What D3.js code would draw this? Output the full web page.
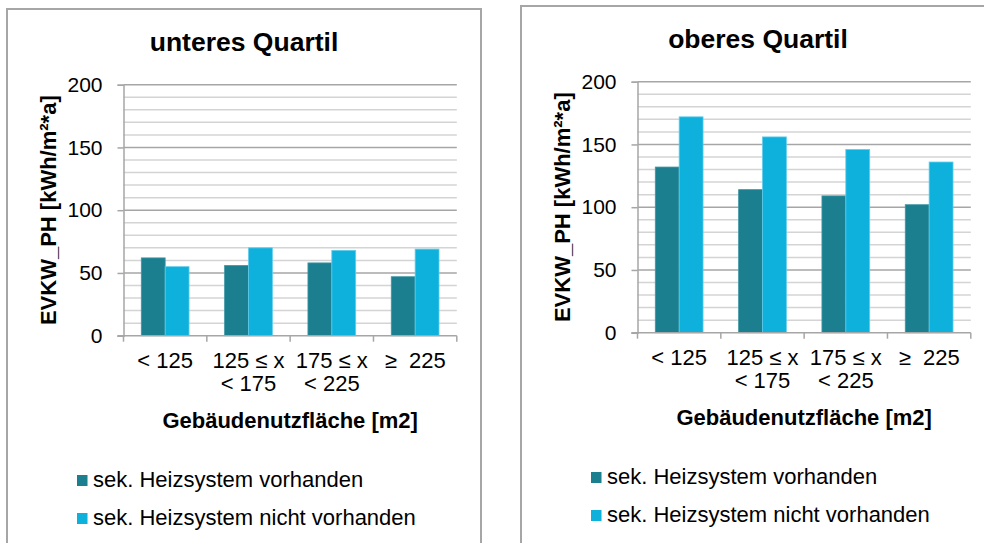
<!DOCTYPE html>
<html>
<head>
<meta charset="utf-8">
<script src="https://cdn.jsdelivr.net/npm/d3@7"></script>
<style>
  body { margin: 0; background: #fff; }
  text { font-family: "Liberation Sans", Arial, sans-serif; fill: #000; }
</style>
</head>
<body>
<div id="chart"></div>
<script>
// categories (x-axis), each label split into its lines
var categories = [["< 125"], ["125 ≤ x", "< 175"], ["175 ≤ x", "< 225"], ["≥  225"]];
var seriesNames = ["sek. Heizsystem vorhanden", "sek. Heizsystem nicht vorhanden"];
var seriesColors = ["#1b7f8f", "#0eb0dc"];
var seriesEdge = ["#3f98a6", "#62cdeb"];

// unteres Quartil
var unten_vorhanden = [62, 56, 58, 47];
var unten_nicht = [55, 70, 68, 69];
// oberes Quartil
var oben_vorhanden = [132, 114, 109, 102];
var oben_nicht = [172, 156, 146, 136];

var yTicks = [0, 50, 100, 150, 200];
var yLabel = "EVKW_PH [kWh/m²*a]";
var xLabel = "Gebäudenutzfläche [m2]";

var svg = d3.select("#chart").append("svg")
  .attr("width", 984)
  .attr("height", 543);

function drawPanel(dx, dy, title, vals1, vals2) {
  var g = svg.append("g").attr("transform", "translate(" + dx + "," + dy + ")");

  // frame around the chart (runs off the bottom of the picture)
  g.append("rect")
    .attr("x", 7).attr("y", 9)
    .attr("width", 474).attr("height", 600)
    .attr("fill", "none")
    .attr("stroke", "#a6a6a6")
    .attr("stroke-width", 2);

  var plot = {left: 123.5, right: 456.8, top: 84.7, bottom: 335.7};

  var y = d3.scaleLinear().domain([0, 200]).range([plot.bottom, plot.top]);
  var x = d3.scaleBand()
    .domain(d3.range(categories.length))
    .range([plot.left, plot.right])
    .paddingInner(0.427)
    .paddingOuter(0.2135);
  var xs = d3.scaleBand().domain([0, 1]).range([0, x.bandwidth()]);

  // minor gridlines every 10
  g.selectAll(".minor")
    .data(y.ticks(20).filter(function(d) { return d % 50 != 0; }))
    .enter().append("line")
    .attr("x1", plot.left).attr("x2", plot.right)
    .attr("y1", function(d) { return y(d); })
    .attr("y2", function(d) { return y(d); })
    .attr("stroke", "#d4d4d4")
    .attr("stroke-width", 1.5);

  // major gridlines
  g.selectAll(".major")
    .data(yTicks.filter(function(d) { return d > 0; }))
    .enter().append("line")
    .attr("x1", plot.left).attr("x2", plot.right)
    .attr("y1", function(d) { return y(d); })
    .attr("y2", function(d) { return y(d); })
    .attr("stroke", "#a6a6a6")
    .attr("stroke-width", 1.5);

  // bars
  var data = [];
  categories.forEach(function(c, i) {
    data.push({cat: i, s: 0, v: vals1[i]});
    data.push({cat: i, s: 1, v: vals2[i]});
  });
  g.selectAll(".bar")
    .data(data)
    .enter().append("rect")
    .attr("x", function(d) { return x(d.cat) + xs(d.s); })
    .attr("y", function(d) { return y(d.v); })
    .attr("width", xs.bandwidth())
    .attr("height", function(d) { return y(0) - y(d.v); })
    .attr("fill", function(d) { return seriesColors[d.s]; })
    .attr("stroke", function(d) { return seriesEdge[d.s]; })
    .attr("stroke-width", 0.8);

  // y axis
  var yAxis = g.append("g")
    .attr("transform", "translate(" + plot.left + ",0)")
    .call(d3.axisLeft(y).tickValues(yTicks).tickSize(6).tickPadding(15));
  yAxis.select(".domain").attr("stroke", "#a6a6a6").attr("stroke-width", 1.5);
  yAxis.selectAll(".tick line").attr("stroke", "#a6a6a6").attr("stroke-width", 1.5);
  yAxis.selectAll(".tick text")
    .attr("font-size", "21px")
    .attr("fill", "#000")
    .style("font-family", "'Liberation Sans', Arial, sans-serif");

  // x axis line with ticks at category borders
  var boundaries = d3.range(categories.length + 1).map(function(i) {
    return plot.left + i * x.step();
  });
  g.append("line")
    .attr("x1", plot.left - 6).attr("x2", plot.right)
    .attr("y1", plot.bottom).attr("y2", plot.bottom)
    .attr("stroke", "#a6a6a6").attr("stroke-width", 1.5);
  g.selectAll(".xtick")
    .data(boundaries)
    .enter().append("line")
    .attr("x1", function(d) { return d; })
    .attr("x2", function(d) { return d; })
    .attr("y1", plot.bottom).attr("y2", plot.bottom + 6)
    .attr("stroke", "#a6a6a6").attr("stroke-width", 1.5);

  // x tick labels
  var lbl = g.selectAll(".xlabel")
    .data(categories)
    .enter().append("text")
    .attr("text-anchor", "middle")
    .attr("font-size", "22px")
    .style("white-space", "pre");
  lbl.selectAll("tspan")
    .data(function(d, i) { return d.map(function(t) { return {t: t, i: i}; }); })
    .enter().append("tspan")
    .attr("x", function(d) { return x(d.i) + x.bandwidth() / 2; })
    .attr("y", function(d, j) { return 368 + j * 23; })
    .text(function(d) { return d.t; });

  // axis titles
  g.append("text")
    .attr("x", (plot.left + plot.right) / 2)
    .attr("y", 428)
    .attr("text-anchor", "middle")
    .attr("font-size", "22px")
    .attr("font-weight", "bold")
    .text(xLabel);

  g.append("text")
    .attr("transform", "translate(56," + (plot.top + plot.bottom) / 2 + ") rotate(-90)")
    .attr("text-anchor", "middle")
    .attr("font-size", "22px")
    .attr("font-weight", "bold")
    .text(yLabel);

  // title
  g.append("text")
    .attr("x", 244)
    .attr("y", 51)
    .attr("text-anchor", "middle")
    .attr("font-size", "26.5px")
    .attr("font-weight", "bold")
    .text(title);

  // legend
  var leg = g.selectAll(".legend")
    .data(seriesNames)
    .enter().append("g")
    .attr("transform", function(d, i) { return "translate(77," + (487 + i * 38) + ")"; });
  leg.append("rect")
    .attr("x", 0).attr("y", -12)
    .attr("width", 10.5).attr("height", 11)
    .attr("fill", function(d, i) { return seriesColors[i]; });
  leg.append("text")
    .attr("x", 16)
    .attr("y", 0)
    .attr("font-size", "22px")
    .text(function(d) { return d; });
}

drawPanel(0, 0, "unteres Quartil", unten_vorhanden, unten_nicht);
drawPanel(514, -3, "oberes Quartil", oben_vorhanden, oben_nicht);
</script>
</body>
</html>
